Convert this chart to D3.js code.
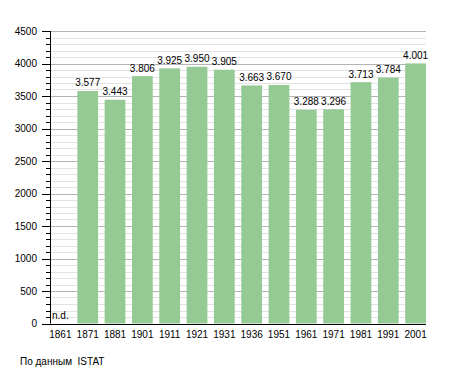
<!DOCTYPE html>
<html><head><meta charset="utf-8">
<script src="https://cdn.jsdelivr.net/npm/d3@7"></script>
<style>body{margin:0;background:#fff}svg{display:block;font-family:"Liberation Sans",Arial,sans-serif}</style>
</head><body><svg id="c" width="455" height="373"></svg>
<script>
const years = ["1861","1871","1881","1901","1911","1921","1931","1936","1951","1961","1971","1981","1991","2001"];
const population = [null,3577,3443,3806,3925,3950,3905,3663,3670,3288,3296,3713,3784,4001];
const valueLabels = ["n.d.","3.577","3.443","3.806","3.925","3.950","3.905","3.663","3.670","3.288","3.296","3.713","3.784","4.001"];
const majorTicks = [0,500,1000,1500,2000,2500,3000,3500,4000,4500];
const sourceText = "По данным  ISTAT";

const svg = d3.select("#c");
const pL = 50, pR = 426, pT = 31, pB = 323.5;
const x = d3.scaleBand().domain(years).range([pL, pR]).paddingInner(0.24).paddingOuter(0);
const y = d3.scaleLinear().domain([0, 4500]).range([pB, pT]);
const minorTicks = d3.range(0, 4501, 100).filter(v => v % 500 !== 0);
const py = v => Math.round(y(v)) + 0.5;
const fs = 10;

// grid
svg.append("g").selectAll("line").data(minorTicks).join("line")
  .attr("x1", pL).attr("x2", pR).attr("y1", py).attr("y2", py)
  .attr("stroke", "#e2e2e2").attr("stroke-width", 1);
svg.append("g").selectAll("line").data(majorTicks.filter(d=>d>0)).join("line")
  .attr("x1", pL).attr("x2", pR).attr("y1", py).attr("y2", py)
  .attr("stroke", "#b4b4b4").attr("stroke-width", 1);

// bars
const data = years.map((yr,i)=>({yr, v: population[i], lab: valueLabels[i]}));
svg.append("g").selectAll("rect").data(data.filter(d=>d.v!=null)).join("rect")
  .attr("x", d => x(d.yr)).attr("width", x.bandwidth())
  .attr("y", d => y(d.v)).attr("height", d => y(0) - y(d.v))
  .attr("fill", "#95ca95");

// value labels
svg.append("g").selectAll("text").data(data).join("text")
  .attr("x", d => d.v==null ? x(d.yr)+2 : x(d.yr) + x.bandwidth()/2)
  .attr("y", d => d.v==null ? y(0)-5 : y(d.v) - 4.5)
  .attr("text-anchor", d => d.v==null ? "start" : "middle")
  .attr("font-size", fs).attr("fill", "#000")
  .text(d => d.lab);

// y axis
const yAxis = svg.append("g");
yAxis.append("line").attr("x1", pL+0.5).attr("x2", pL+0.5).attr("y1", pT).attr("y2", pB).attr("stroke","#000");
yAxis.selectAll("line.maj").data(majorTicks).join("line").attr("class","maj")
  .attr("x1", 42).attr("x2", pL).attr("y1", py).attr("y2", py).attr("stroke","#000");
yAxis.selectAll("line.min").data(minorTicks).join("line").attr("class","min")
  .attr("x1", 46).attr("x2", pL).attr("y1", py).attr("y2", py).attr("stroke","#000");
yAxis.selectAll("text").data(majorTicks).join("text")
  .attr("x", 37).attr("y", d => y(d)+3.5).attr("text-anchor","end")
  .attr("font-size", fs).text(d => d);

// x axis
svg.append("line").attr("x1", 45).attr("x2", pR).attr("y1", py(0)).attr("y2", py(0)).attr("stroke","#000");
svg.append("g").selectAll("text").data(years).join("text")
  .attr("x", d => x(d) + x.bandwidth()/2).attr("y", 337.5).attr("text-anchor","middle")
  .attr("font-size", fs).text(d => d);

svg.append("text").attr("x", 20).attr("y", 365).attr("font-size", fs).style("white-space","pre").text(sourceText);
</script></body></html>
